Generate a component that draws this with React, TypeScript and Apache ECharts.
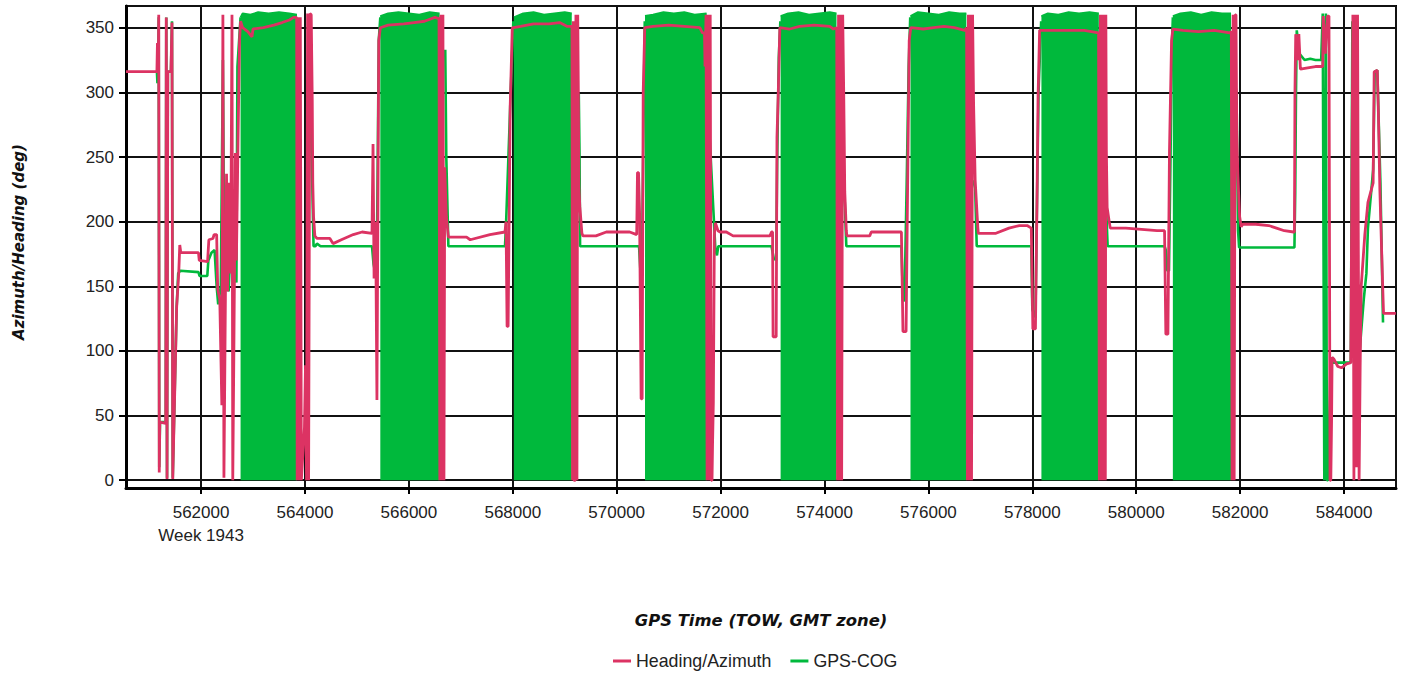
import React, { useEffect, useRef } from "react";
import * as echarts from "echarts";

// ---------- axis extents & labels ----------
const X_MIN = 560555;
const X_MAX = 585000;
const Y_MIN = -6;
const Y_MAX = 366.8;
const WEEK_LABEL = "Week 1943";
const WEEK_TICK = 562000;
const X_TITLE = "GPS Time (TOW, GMT zone)";
const Y_TITLE = "Azimuth/Heading (deg)";
const HEADING_NAME = "Heading/Azimuth";
const COG_NAME = "GPS-COG";

// ---------- Heading / Azimuth ----------
const headingTime = [
  560555, 561150, 561160, 561180, 561185, 561195, 561205, 561320, 561330, 561345,
  561360, 561420, 561440, 561455, 561530, 561570, 561590, 561610, 561950, 561965,
  562125, 562150, 562230, 562250, 562300, 562320, 562360, 562400, 562420, 562440,
  562470, 562490, 562510, 562540, 562570, 562595, 562610, 562630, 562660, 562680,
  562710, 562740, 562760, 562800, 562900, 562980, 563000, 563200, 563400, 563560,
  563700, 563780, 563840, 563850, 563870, 563890, 563910, 563930, 563990, 564010,
  564030, 564050, 564070, 564095, 564120, 564140, 564150, 564165, 564190, 564230,
  564480, 564540, 564700, 564930, 565100, 565290, 565310, 565330, 565360, 565385,
  565420, 565450, 565600, 565900, 566100, 566300, 566500, 566580, 566595, 566615,
  566635, 566655, 566675, 566690, 566720, 566760, 567110, 567180, 567560, 567850,
  567870, 567890, 567910, 567950, 567990, 568020, 568150, 568400, 568700, 568900,
  569050, 569140, 569150, 569165, 569175, 569205, 569215, 569235, 569250, 569262,
  569272, 569290, 569330, 569350, 569600, 569800, 570250, 570385, 570400, 570420,
  570440, 570470, 570490, 570510, 570540, 570700, 571000, 571300, 571600, 571650,
  571690, 571700, 571720, 571740, 571760, 571780, 571800, 571820, 571835, 571845,
  571860, 571880, 571900, 571950, 571990, 572110, 572240, 572950, 572980, 573000,
  573010, 573070, 573085, 573110, 573140, 573330, 573520, 573800, 574100, 574170,
  574235, 574250, 574270, 574290, 574310, 574330, 574350, 574370, 574390, 574420,
  574430, 574870, 574900, 575480, 575510, 575570, 575600, 575630, 575660, 575900,
  576100, 576300, 576500, 576700, 576735, 576750, 576770, 576790, 576810, 576830,
  576850, 576870, 576900, 576950, 576960, 577300, 577550, 577750, 577900, 577980,
  578010, 578060, 578090, 578110, 578140, 578400, 578700, 579000, 579275, 579290,
  579310, 579330, 579350, 579370, 579390, 579405, 579415, 579425, 579440, 579480,
  579500, 579800, 580100, 580400, 580545, 580570, 580610, 580640, 580680, 580705,
  580900, 581200, 581500, 581800, 581830, 581845, 581865, 581885, 581905, 581920,
  581935, 581955, 581990, 582020, 582050, 582300, 582550, 582700, 582850, 583030,
  583045, 583055, 583070, 583100, 583130, 583160, 583300, 583450, 583590, 583600,
  583640, 583680, 583710, 583730, 583745, 583760, 583770, 583800, 583880, 583950,
  584050, 584130, 584170, 584190, 584210, 584240, 584260, 584290, 584310, 584330,
  584400, 584460, 584560, 584580, 584640, 584660, 584690, 584740, 584760, 584998,
];
const headingDeg = [
  316, 316, 338, 338, 360, 6, 45, 44, 358, 1,
  316, 316, 354, 1, 134, 160, 182, 176, 176, 170,
  169, 186, 187, 190, 190, 148, 140, 58, 360, 2,
  150, 237, 146, 230, 160, 360, 0, 94, 253, 170,
  260, 340, 355, 350, 347, 343, 349, 350, 352, 354,
  356, 358, 358, 0, 358, 0, 358, 0, 41, 89,
  0, 361, 0, 361, 360, 294, 230, 204, 189, 187,
  187, 183, 186, 190, 192, 191, 260, 156, 200, 62,
  340, 350, 352, 353, 354, 355, 358, 357, 0, 360,
  0, 360, 0, 242, 204, 188, 188, 186, 190, 192,
  200, 119, 119, 289, 350, 350, 351, 353, 353, 354,
  351, 351, 0, 355, 0, 0, 360, 0, 360, 299,
  228, 212, 191, 189, 189, 192, 192, 190, 238, 238,
  208, 63, 63, 300, 350, 351, 352, 351, 350, 346,
  346, 320, 360, 0, 360, 0, 360, 0, 0, 28,
  60, 190, 199, 193, 192, 192, 189, 189, 192, 192,
  111, 111, 265, 300, 350, 349, 351, 352, 351, 349,
  350, 0, 360, 0, 360, 0, 360, 299, 223, 193,
  189, 189, 192, 192, 115, 115, 229, 340, 350, 349,
  350, 351, 350, 348, 350, 0, 360, 0, 360, 0,
  360, 290, 232, 196, 191, 191, 195, 197, 197, 195,
  117, 117, 216, 296, 348, 348, 348, 348, 346, 0,
  360, 0, 360, 0, 360, 0, 360, 255, 211, 200,
  195, 195, 194, 193, 193, 113, 113, 255, 340, 349,
  348, 347, 348, 346, 347, 0, 360, 0, 360, 360,
  270, 237, 204, 196, 198, 198, 197, 195, 193, 192,
  192, 300, 345, 325, 345, 318, 319, 320, 320, 359,
  330, 359, 359, 0, 0, 46, 95, 94, 88, 87,
  90, 91, 360, 0, 360, 10, 360, 0, 87, 150,
  190, 215, 230, 316, 317, 286, 224, 155, 129, 129,
];

// ---------- GPS-COG (line parts, null = gap) ----------
const cogTime = [
  561150, 561160, 561172, 561185, 561195, 561210, 561320, 561330, 561345, 561360,
  561420, 561440, 561455, 561530, 561560, 561600, 561950, 561970, 562120, 562140,
  562200, 562260, 562300, 562330, 562380, 562420, 562450, 562480, 562530, 562560,
  562620, 562680, 562700, 562740, 562760, 562770,
  564100, 564140, 564165, 564200, 564230, 564300, 565290, 565320, 565380, 565420,
  565450, 565460,
  566700, 566720, 566760, 567850, 567870, 567960, 568010, 568020,
  569270, 569285, 569295, 570385, 570430, 570480, 570510, 570540, 570550,
  571730, 571745, 571900, 571930, 571955, 572980, 573020, 573070, 573090, 573120,
  573150, 573160,
  574360, 574390, 574420, 575480, 575510, 575540, 575580, 575620, 575650, 575660,
  576860, 576900, 576930, 577980, 578000, 578060, 578090, 578120, 578170, 578180,
  579420, 579450, 580545, 580570, 580600, 580630, 580660, 580690, 580705, 580710,
  581910, 581930, 581960, 581980, 583045, 583060, 583075, 583090, 583140, 583240,
  583350, 583450, 583560, 583590, 583620, 583650, 583670, 583690, 583740, 583900,
  584130, 584160, 584190, 584300, 584380, 584430, 584460, 584520, 584560, 584590,
  584640, 584700, 584750,
];
const cogDeg = [
  316, 307, 316, 358, 10, 45, 45, 358, 2, 316,
  316, 355, 2, 134, 160, 162, 161, 158, 158, 170,
  176, 178, 150, 136, 150, 325, 146, 170, 146, 175,
  160, 153, 320, 345, 358, null,
  300, 230, 181, 181, 183, 181, 181, 167, 155, 340,
  358, null,
  333, 250, 181, 181, 198, 300, 355, null,
  299, 250, 181, 181, 181, 145, 250, 355, null,
  320, 300, 178, 174, 181, 181, 172, 170, 250, 327,
  355, null,
  229, 215, 181, 181, 139, 139, 226, 320, 358, null,
  232, 226, 181, 181, 132, 126, 216, 300, 355, null,
  211, 181, 181, 178, 162, 162, 250, 340, 358, null,
  305, 300, 193, 180, 180, 222, 300, 348, 330, 325,
  326, 325, 325, 361, 0, 361, 0, 0, 91, 91,
  91, 355, 100, 100, 140, 160, 195, 222, 240, 316,
  317, 230, 122,
];

// ---------- GPS-COG dense wrap-around blocks: top outline, null = gap ----------
const blockTime = [
  562760, 562800, 562950, 563100, 563300, 563500, 563700, 563846, 563850,
  565450, 565600, 565800, 566000, 566200, 566400, 566590, 566595,
  568020, 568200, 568400, 568600, 568800, 569000, 569135, 569140,
  570545, 570700, 570900, 571100, 571300, 571500, 571730, 571735,
  573155, 573300, 573500, 573700, 573900, 574100, 574230, 574235,
  575655, 575800, 576000, 576200, 576400, 576600, 576730, 576735,
  578175, 578300, 578500, 578700, 578900, 579100, 579280, 579285,
  580705, 580850, 581050, 581250, 581450, 581650, 581825,
];
const blockTop = [
  358, 361, 360, 362, 361, 362, 361, 360, null,
  359, 361, 362, 361, 360, 362, 361, null,
  358, 361, 362, 360, 361, 362, 361, null,
  359, 360, 362, 361, 362, 360, 361, null,
  359, 361, 362, 360, 361, 362, 361, null,
  359, 362, 361, 360, 362, 361, 361, null,
  359, 361, 360, 362, 361, 362, 361, null,
  359, 361, 362, 360, 362, 361, 361,
];

const PINK = "#dc3363";
const GREEN = "#00b93c";
const LABEL_FONT = "Liberation Sans";
const TITLE_FONT = "DejaVu Sans";

function splitSegments(t: number[], v: (number | null)[]) {
  const segs: number[][][] = [];
  let cur: number[][] = [];
  t.forEach((x, i) => {
    const y = v[i];
    if (y === null || y === undefined) {
      if (cur.length) segs.push(cur);
      cur = [];
    } else {
      cur.push([x, y]);
    }
  });
  if (cur.length) segs.push(cur);
  return segs;
}

export default function App() {
  const ref = useRef<HTMLDivElement>(null);

  useEffect(() => {
    if (!ref.current) return;
    const chart = echarts.init(ref.current, null, { renderer: "svg" });

    const blockSegs = splitSegments(blockTime, blockTop);
    const cogSegs = splitSegments(cogTime, cogDeg);
    const headingData = headingTime.map((t, i) => [t, headingDeg[i]]);

    const series: any[] = [];
    blockSegs.forEach((d) =>
      series.push({
        name: COG_NAME,
        type: "line",
        data: d,
        symbol: "none",
        showSymbol: false,
        lineStyle: { color: GREEN, width: 2 },
        itemStyle: { color: GREEN },
        areaStyle: { color: GREEN, opacity: 1, origin: 0 },
        z: 2,
        silent: true,
      })
    );
    cogSegs.forEach((d) =>
      series.push({
        name: COG_NAME,
        type: "line",
        data: d,
        symbol: "none",
        showSymbol: false,
        lineStyle: { color: GREEN, width: 2.6 },
        itemStyle: { color: GREEN },
        z: 2,
        silent: true,
      })
    );
    series.push({
      name: HEADING_NAME,
      type: "line",
      data: headingData,
      symbol: "none",
      showSymbol: false,
      lineStyle: { color: PINK, width: 2.8 },
      itemStyle: { color: PINK },
      z: 3,
      silent: true,
    });

    chart.setOption({
      animation: false,
      backgroundColor: "#ffffff",
      grid: {
        left: 126,
        right: 9,
        top: 6,
        bottom: 189,
        show: true,
        borderColor: "#000",
        borderWidth: 2,
        containLabel: false,
        outerBoundsMode: "none",
      },
      legend: {
        data: [HEADING_NAME, COG_NAME],
        left: 613,
        top: 651,
        padding: 0,
        icon: "rect",
        itemWidth: 18,
        itemHeight: 3,
        itemGap: 19,
        textStyle: {
          fontFamily: LABEL_FONT,
          fontSize: 17.8,
          color: "#222",
          lineHeight: 20,
        },
      },
      xAxis: {
        type: "value",
        min: X_MIN,
        max: X_MAX,
        splitNumber: 12,
        axisLine: { onZero: false, lineStyle: { color: "#000", width: 3 } },
        axisTick: { show: true, length: 6, lineStyle: { color: "#000", width: 2 } },
        axisLabel: {
          showMinLabel: false,
          showMaxLabel: false,
          margin: 13,
          fontFamily: LABEL_FONT,
          fontSize: 17,
          color: "#222",
          lineHeight: 23,
          formatter: (v: number) => (v === WEEK_TICK ? `${v}\n${WEEK_LABEL}` : `${v}`),
        },
        splitLine: { show: true, lineStyle: { color: "#111", width: 2 } },
      },
      yAxis: {
        type: "value",
        min: Y_MIN,
        max: Y_MAX,
        splitNumber: 7,
        axisLine: { show: true, onZero: false, lineStyle: { color: "#000", width: 3 } },
        axisTick: { show: true, length: 7, lineStyle: { color: "#000", width: 2 } },
        axisLabel: {
          showMinLabel: false,
          showMaxLabel: false,
          margin: 12,
          fontFamily: LABEL_FONT,
          fontSize: 17,
          color: "#222",
        },
        splitLine: { show: true, lineStyle: { color: "#111", width: 2 } },
      },
      graphic: [
        {
          type: "text",
          x: 19,
          y: 242,
          rotation: Math.PI / 2,
          style: {
            text: Y_TITLE,
            font: `italic bold 15px "${TITLE_FONT}"`,
            fill: "#111",
            align: "center",
            verticalAlign: "middle",
          },
        },
        {
          type: "text",
          x: 761,
          y: 620,
          style: {
            text: X_TITLE,
            font: `italic bold 16.4px "${TITLE_FONT}"`,
            fill: "#111",
            align: "center",
            verticalAlign: "middle",
          },
        },
      ],
      series,
    });

    return () => chart.dispose();
  }, []);

  return (
    <div
      ref={ref}
      style={{ position: "absolute", left: 0, top: 0, width: 1405, height: 677 }}
    />
  );
}
